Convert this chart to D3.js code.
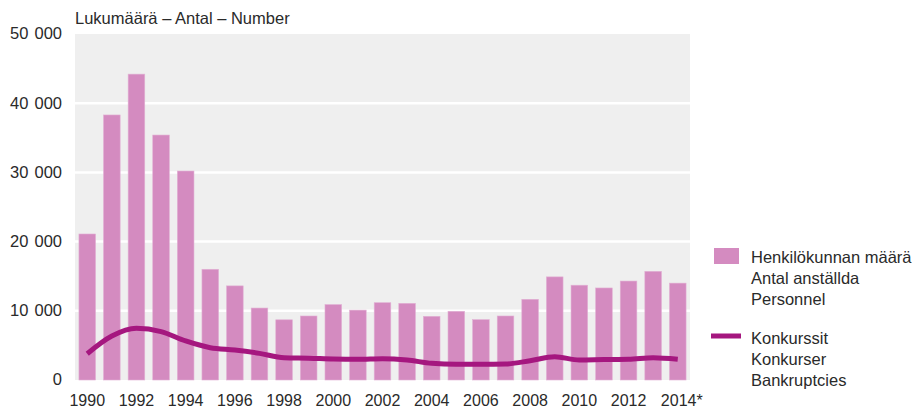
<!DOCTYPE html>
<html lang='fi'>
<head>
	<meta charset='UTF-8'/>
	<title>Konkurssit 1990–2014</title>
	<script src='https://cdnjs.cloudflare.com/ajax/libs/d3/7.8.5/d3.min.js'></script>
	<style>
		body {margin: 0; background: #fff;}
		svg text {font-family: 'Liberation Sans', Arial, sans-serif; fill: #2a2a2a;}
	</style>
</head>
<body>
	<div class='graph'></div>
	<script>
		// data
		const years = d3.range(1990, 2015).map(String);
		const personnel = [21100, 38300, 44200, 35400, 30200, 16000, 13600, 10400, 8700, 9250,
			10900, 10100, 11170, 11080, 9200, 9930, 8720, 9250, 11660, 14900,
			13700, 13300, 14300, 15700, 14000];
		const bankruptcies = [3800, 6350, 7470, 7000, 5640, 4670, 4330, 3850, 3220, 3150,
			3030, 2990, 3080, 2890, 2410, 2270, 2270, 2310, 2790, 3370,
			2890, 2950, 2990, 3220, 3000];
		const yTicks = [0, 10000, 20000, 30000, 40000, 50000];
		const legendBars = ['Henkilökunnan määrä', 'Antal anställda', 'Personnel'];
		const legendLine = ['Konkurssit', 'Konkurser', 'Bankruptcies'];

		const width = 912, height = 408;
		const margin = {top: 34, right: 222, bottom: 28, left: 75};
		const fs = '16.5px';

		const svg = d3.select('.graph')
			.append('svg')
			.attr('width', width)
			.attr('height', height);

		const x = d3.scaleBand()
			.domain(years)
			.range([margin.left, width - margin.right])
			.paddingInner(0.325)
			.paddingOuter(0.16);

		const y = d3.scaleLinear()
			.domain([0, 50000])
			.range([height - margin.bottom, margin.top]);

		// plot background
		svg.append('rect')
			.attr('x', margin.left)
			.attr('y', margin.top)
			.attr('width', width - margin.right - margin.left)
			.attr('height', height - margin.bottom - margin.top)
			.attr('fill', '#efefef');

		// gridlines
		svg.append('g')
			.selectAll('line')
			.data(yTicks.slice(1, -1))
			.join('line')
			.attr('x1', margin.left)
			.attr('x2', width - margin.right)
			.attr('y1', d => y(d))
			.attr('y2', d => y(d))
			.attr('stroke', '#fff')
			.attr('stroke-width', 2.5);

		// y axis
		const yAxis = svg.append('g')
			.attr('transform', 'translate(' + (margin.left - 10) + ',0)')
			.call(d3.axisLeft(y).tickValues(yTicks).tickSize(0)
				.tickFormat(d => d3.format(',')(d).replace(/,/g, ' ')));
		yAxis.select('.domain').remove();
		yAxis.selectAll('text').style('font-size', '16.5px').attr('dy', '0.3em')
			.style('word-spacing', '1.5px');

		// title
		svg.append('text')
			.attr('x', margin.left)
			.attr('y', 24)
			.style('font-size', fs)
			.text('Lukumäärä – Antal – Number');

		// bars
		svg.append('g')
			.selectAll('rect')
			.data(personnel)
			.join('rect')
			.attr('x', (d, i) => x(years[i]))
			.attr('width', x.bandwidth())
			.attr('y', d => y(d))
			.attr('height', d => y(0) - y(d))
			.attr('fill', '#d48bc0')
			.attr('stroke', '#e2b0d4')
			.attr('stroke-width', 0.6);

		// line
		const line = d3.line()
			.x((d, i) => x(years[i]) + x.bandwidth() / 2)
			.y(d => y(d))
			.curve(d3.curveMonotoneX);
		svg.append('path')
			.datum(bankruptcies)
			.attr('d', line)
			.attr('fill', 'none')
			.attr('stroke', '#a5177f')
			.attr('stroke-width', 5);

		// x axis
		const xAxis = svg.append('g')
			.attr('transform', 'translate(0,' + (height - margin.bottom) + ')')
			.call(d3.axisBottom(x)
				.tickValues(years.filter((d, i) => i % 2 === 0))
				.tickSize(0)
				.tickFormat(d => d === '2014' ? '2014*' : d));
		xAxis.select('.domain').remove();
		xAxis.selectAll('text')
			.style('font-size', '16px')
			.attr('dy', '0')
			.attr('y', 26)
			.attr('dx', d => d === '2014' ? 4 : 0);

		// legend
		const legend = svg.append('g').attr('transform', 'translate(711,0)');
		legend.append('rect')
			.attr('x', 3).attr('y', 248)
			.attr('width', 25).attr('height', 16)
			.attr('fill', '#d48bc0');
		legend.append('g')
			.selectAll('text')
			.data(legendBars)
			.join('text')
			.attr('x', 40)
			.attr('y', (d, i) => 263 + i * 21)
			.style('font-size', fs)
			.text(d => d);
		legend.append('line')
			.attr('x1', 0).attr('x2', 30)
			.attr('y1', 336).attr('y2', 336)
			.attr('stroke', '#a5177f')
			.attr('stroke-width', 5);
		legend.append('g')
			.selectAll('text')
			.data(legendLine)
			.join('text')
			.attr('x', 40)
			.attr('y', (d, i) => 344 + i * 21)
			.style('font-size', fs)
			.text(d => d);
	</script>
</body>
</html>
